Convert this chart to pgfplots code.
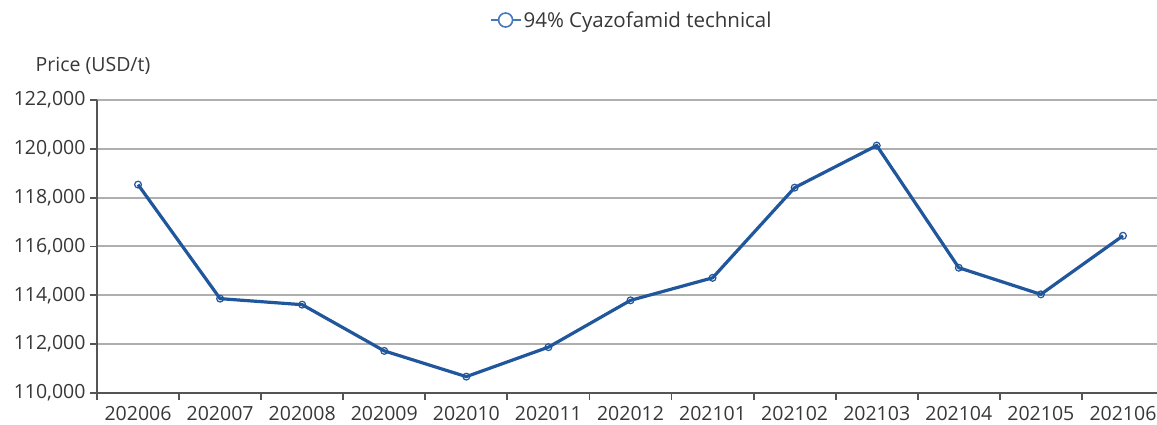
\documentclass[border=0pt]{standalone}
\usepackage{fontspec}
\setmainfont{Open Sans}
\usepackage{pgfplots}
\pgfplotsset{compat=1.18}
\definecolor{lineblue}{RGB}{31,86,156}
\definecolor{legblue}{RGB}{70,120,185}
\definecolor{gridgray}{RGB}{175,175,175}
\definecolor{axisgray}{RGB}{85,85,85}
\definecolor{txt}{RGB}{55,55,55}

\begin{document}
\begin{tikzpicture}[x=1pt,y=1pt]
\begin{axis}[
    name=ax,
    at={(0,0)}, anchor=south west,
    scale only axis,
    width=1067pt, height=293pt,
    xmin=-0.5, xmax=12.5,
    ymin=110000, ymax=122000,
    ytick={110000,112000,...,122000},
    scaled y ticks=false,
    xtick={-0.5,0.5,...,12.5},
    x tick label as interval,
    xticklabels={202006,202007,202008,202009,202010,202011,202012,202101,202102,202103,202104,202105,202106},
    axis x line*=bottom, axis y line*=left,
    axis line style={axisgray, line width=2pt, -},
    tick align=outside,
    major tick length=7pt,
    tick style={axisgray, line width=1.8pt},
    ymajorgrids,
    grid style={gridgray, line width=2pt},
    ticklabel style={font=\fontsize{19.5}{22}\selectfont, text=txt},
    yticklabel style={xshift=-1pt, /pgf/number format/.cd, fixed, 1000 sep={,}, assume math mode=true},
    xticklabel style={yshift=-3pt},
    legend style={at={(axis description cs:0.501,1.273)}, anchor=center, draw=none,
        font=\fontsize{20.5}{23}\selectfont, text=txt, fill=none},
    legend image code/.code={
        \draw[legblue, line width=2pt] (-4pt,0pt) -- (26pt,0pt);
        \draw[legblue, line width=1.6pt, fill=white] (11pt,0pt) circle (7pt);
    },
]
\addplot[lineblue, line width=3.2pt, mark=o, mark size=3.4pt,
    mark options={fill=white, line width=1.2pt}]
coordinates {
    (0,118535) (1,113864) (2,113617) (3,111724) (4,110670) (5,111877)
    (6,113794) (7,114716) (8,118410) (9,120135) (10,115130) (11,114040) (12,116440)
};
\addlegendentry{94\% Cyazofamid technical}
\end{axis}
\node[font=\fontsize{19.5}{22}\selectfont, text=txt] at ([xshift=-4pt,yshift=34pt]ax.north west) {Price (USD/t)};
\pgfresetboundingbox
\path[use as bounding box] (-97,-32) rectangle (1060,393);
\end{tikzpicture}
\end{document}
